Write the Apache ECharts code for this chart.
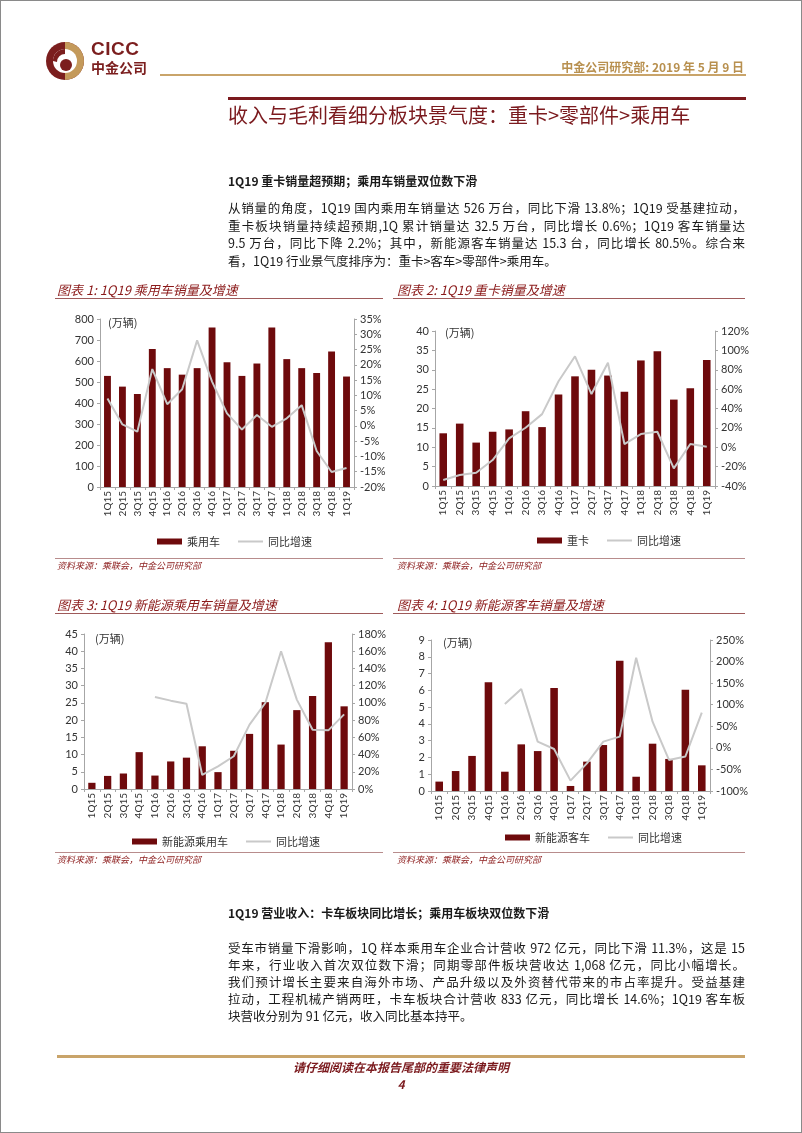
<!DOCTYPE html>
<html><head><meta charset="utf-8">
<script src="https://cdn.jsdelivr.net/npm/echarts@6/dist/echarts.min.js"></script>
<style>
html,body{margin:0;padding:0;background:#fff;}
#page{position:relative;width:802px;height:1133px;overflow:hidden;font-family:"Noto Sans CJK SC",sans-serif;color:#1a1a1a;}
#chart{position:absolute;left:0;top:0;width:802px;height:1133px;}
.frame{position:absolute;left:0;top:0;width:802px;height:1133px;box-sizing:border-box;border:1px solid #8a8a8a;pointer-events:none;}
.t{position:absolute;white-space:nowrap;}
.hl{position:absolute;height:0;}
.para{font-size:12.5px;line-height:17px;width:517px;left:228px;text-align:justify;text-align-last:justify;}
.last{text-align-last:left;}
.cap{font-style:italic;color:#8B1A1A;font-size:13px;line-height:16px;}
.src{font-style:italic;color:#8B1A1A;font-size:9px;line-height:12px;}
.sub{font-weight:bold;font-size:12px;line-height:16px;left:228px;}
</style></head>
<body>
<div id="page">
<div id="chart"></div>

<!-- header -->
<svg class="t" style="left:44px;top:40px" width="42" height="42" viewBox="0 0 42 42">
  <circle cx="21" cy="21" r="19" fill="#7B1E1E"/>
  <path d="M21 2 A19 19 0 0 1 21 40 Z" fill="#C49A5B"/>
  <circle cx="21" cy="21" r="12" fill="#fff"/>
  <circle cx="22" cy="25" r="6" fill="#7B1E1E"/>
  <path d="M9 21 A12 12 0 0 1 21 9 L21 14 A8 8 0 0 0 13 22 Z" fill="#7B1E1E"/>
</svg>
<div class="t" style="left:91px;top:39px;font-family:'Liberation Sans',sans-serif;font-weight:bold;font-size:19px;line-height:20px;color:#7B1E1E;letter-spacing:0.5px">CICC</div>
<div class="t" style="left:91px;top:59px;font-weight:bold;font-size:14px;line-height:16px;color:#7B1E1E">中金公司</div>
<div class="t" style="right:58px;top:59px;font-weight:bold;font-size:12px;line-height:16px;color:#B8904F">中金公司研究部: 2019 年 5 月 9 日</div>
<div class="hl" style="left:160px;top:74px;width:586px;border-top:2px solid #C9A46A"></div>
<div class="hl" style="left:228px;top:97px;width:518px;border-top:3px solid #7B1A1E"></div>
<div class="t" style="left:228px;top:102px;font-size:20px;line-height:26px;color:#7B1A1E">收入与毛利看细分板块景气度：重卡&gt;零部件&gt;乘用车</div>

<div class="t sub" style="top:173px">1Q19 重卡销量超预期；乘用车销量双位数下滑</div>
<div class="t para" style="top:199px">从销量的角度，1Q19 国内乘用车销量达 526 万台，同比下滑 13.8%；1Q19 受基建拉动，</div>
<div class="t para" style="top:216.5px">重卡板块销量持续超预期,1Q 累计销量达 32.5 万台，同比增长 0.6%；1Q19 客车销量达</div>
<div class="t para" style="top:234px">9.5 万台，同比下降 2.2%；其中，新能源客车销量达 15.3 台，同比增长 80.5%。综合来</div>
<div class="t para last" style="top:251.5px">看，1Q19 行业景气度排序为：重卡&gt;客车&gt;零部件&gt;乘用车。</div>

<div class="t cap" style="left:57px;top:282px">图表 1: 1Q19 乘用车销量及增速</div>
<div class="hl" style="left:55px;top:298px;width:328px;border-top:1px solid #9E5A5A"></div>
<div class="t cap" style="left:397px;top:282px">图表 2: 1Q19 重卡销量及增速</div>
<div class="hl" style="left:393px;top:298px;width:352px;border-top:1px solid #9E5A5A"></div>
<div class="hl" style="left:55px;top:558px;width:328px;border-top:1px solid #B88C8C"></div>
<div class="hl" style="left:393px;top:558px;width:352px;border-top:1px solid #B88C8C"></div>
<div class="t src" style="left:57px;top:560px">资料来源：乘联会，中金公司研究部</div>
<div class="t src" style="left:397px;top:560px">资料来源：乘联会，中金公司研究部</div>

<div class="t cap" style="left:57px;top:597px">图表 3: 1Q19 新能源乘用车销量及增速</div>
<div class="hl" style="left:55px;top:613px;width:328px;border-top:1px solid #9E5A5A"></div>
<div class="t cap" style="left:397px;top:597px">图表 4: 1Q19 新能源客车销量及增速</div>
<div class="hl" style="left:393px;top:613px;width:352px;border-top:1px solid #9E5A5A"></div>
<div class="hl" style="left:55px;top:852px;width:328px;border-top:1px solid #B88C8C"></div>
<div class="hl" style="left:393px;top:852px;width:352px;border-top:1px solid #B88C8C"></div>
<div class="t src" style="left:57px;top:854px">资料来源：乘联会，中金公司研究部</div>
<div class="t src" style="left:397px;top:854px">资料来源：乘联会，中金公司研究部</div>

<div class="t sub" style="top:905px">1Q19 营业收入：卡车板块同比增长；乘用车板块双位数下滑</div>
<div class="t para" style="top:938.5px">受车市销量下滑影响，1Q 样本乘用车企业合计营收 972 亿元，同比下滑 11.3%，这是 15</div>
<div class="t para" style="top:955.5px">年来，行业收入首次双位数下滑；同期零部件板块营收达 1,068 亿元，同比小幅增长。</div>
<div class="t para" style="top:972.5px">我们预计增长主要来自海外市场、产品升级以及外资替代带来的市占率提升。受益基建</div>
<div class="t para" style="top:989.5px">拉动，工程机械产销两旺，卡车板块合计营收 833 亿元，同比增长 14.6%；1Q19 客车板</div>
<div class="t para last" style="top:1006.5px">块营收分别为 91 亿元，收入同比基本持平。</div>

<div class="hl" style="left:57px;top:1055px;width:688px;border-top:3px solid #C9A46A"></div>
<div class="t" style="left:0;width:802px;text-align:center;top:1059px;font-style:italic;font-weight:bold;font-size:12px;line-height:15px;color:#7B1A1E">请仔细阅读在本报告尾部的重要法律声明</div>
<div class="t" style="left:0;width:802px;text-align:center;top:1076px;font-style:italic;font-weight:bold;font-size:12px;line-height:15px;color:#7B1A1E">4</div>
<div class="frame"></div>
</div>
<script>
const quarters = ['1Q15','2Q15','3Q15','4Q15','1Q16','2Q16','3Q16','4Q16','1Q17','2Q17','3Q17','4Q17','1Q18','2Q18','3Q18','4Q18','1Q19'];
const pvSales = [529,478,443,657,566,535,566,759,594,529,588,759,609,566,543,645,526];
const pvYoY = [9.0,0.5,-1.9,18.6,7.1,12.0,28.0,14.5,4.1,-1.2,3.6,-0.3,2.5,6.8,-8.2,-15.1,-13.8];
const hdtSales = [13.6,16.1,11.2,14.0,14.6,19.3,15.2,23.6,28.3,30.0,28.5,24.3,32.4,34.8,22.3,25.2,32.5];
const hdtYoY = [-33.8,-28.7,-26.3,-13.2,9.1,20.1,34.2,68.2,93.9,54.9,87.2,3.3,13.6,16.0,-21.8,3.3,0.6];
const nevPvSales = [1.8,3.8,4.5,10.7,3.9,8.0,9.1,12.4,4.9,11.1,16.0,25.2,12.9,22.9,27.0,42.6,24.0];
const nevPvYoY = [null,null,null,null,106.8,102.6,99.1,16.3,26.3,38.0,74.7,99.9,160.0,103.8,68.9,68.1,86.7];
const nevBusSales = [0.56,1.19,2.09,6.48,1.15,2.78,2.38,6.14,0.30,1.75,2.74,7.77,0.85,2.82,1.91,6.04,1.53];
const nevBusYoY = [null,null,null,null,101.5,136.3,14.4,-2.6,-76.0,-36.0,14.4,26.0,209.0,60.7,-28.0,-20.0,81.6];

const barNames = ['乘用车','重卡','新能源乘用车','新能源客车'];
const lineName = '同比增速';
const unitLabel = '(万辆)';

const BAR = '#6E0A0C', LINE = '#C9C9C9', AX = '#A6A6A6', TXT = '#333';
const numFont = 'Lato, "Noto Sans CJK SC", sans-serif';
const cjkFont = '"Noto Sans CJK SC", sans-serif';

const panels = [
  {grid:{left:100,top:319,width:254,height:168}, l:[0,800,100], r:[-20,35,5], bars:pvSales, yoy:pvYoY, leg:[152,531], unit:[108,317]},
  {grid:{left:435,top:331,width:280,height:155}, l:[0,40,5], r:[-40,120,20], bars:hdtSales, yoy:hdtYoY, leg:[532,530], unit:[445,327]},
  {grid:{left:84,top:634,width:268,height:155}, l:[0,45,5], r:[0,180,20], bars:nevPvSales, yoy:nevPvYoY, leg:[127,831], unit:[95,633]},
  {grid:{left:431,top:640,width:279,height:151}, l:[0,9,1], r:[-100,250,50], bars:nevBusSales, yoy:nevBusYoY, leg:[500,827], unit:[443,637]}
];

const option = {animation:false, grid:[], xAxis:[], yAxis:[], series:[], legend:[], graphic:[]};
panels.forEach((p,i)=>{
  const ln = lineName + '\u200b'.repeat(i);
  option.grid.push(p.grid);
  option.xAxis.push({type:'category', gridIndex:i, data:quarters,
    axisLine:{lineStyle:{color:AX}}, axisTick:{show:true,length:3,lineStyle:{color:AX}},
    axisLabel:{rotate:90, fontSize:10, color:TXT, fontFamily:numFont, margin:4, interval:0}});
  option.yAxis.push({type:'value', gridIndex:i, min:p.l[0], max:p.l[1], interval:p.l[2],
    axisLine:{show:true,lineStyle:{color:AX}}, axisTick:{show:true,length:3,lineStyle:{color:AX}},
    splitLine:{show:false}, axisLabel:{fontSize:11,color:TXT,fontFamily:numFont,margin:6}});
  option.yAxis.push({type:'value', gridIndex:i, position:'right', min:p.r[0], max:p.r[1], interval:p.r[2],
    axisLine:{show:true,lineStyle:{color:AX}}, axisTick:{show:true,length:3,lineStyle:{color:AX}},
    splitLine:{show:false}, axisLabel:{fontSize:11,color:TXT,fontFamily:numFont,margin:6,formatter:'{value}%'}});
  option.series.push({type:'bar', name:barNames[i], xAxisIndex:i, yAxisIndex:2*i, data:p.bars,
    barWidth:'46%', itemStyle:{color:BAR}});
  option.series.push({type:'line', name:ln, xAxisIndex:i, yAxisIndex:2*i+1, data:p.yoy,
    symbol:'none', connectNulls:false, lineStyle:{color:LINE,width:2}, itemStyle:{color:LINE}});
  option.legend.push({left:p.leg[0], top:p.leg[1], itemWidth:25, itemHeight:6, itemGap:18,
    data:[{name:barNames[i], icon:'rect'}, {name:ln, icon:'path://M0 0H100V8H0Z', itemStyle:{color:LINE}}],
    textStyle:{fontSize:11,color:TXT,fontFamily:cjkFont}});
  option.graphic.push({type:'text', left:p.unit[0], top:p.unit[1],
    style:{text:unitLabel, fontSize:11, fill:TXT, fontFamily:cjkFont}});
});

const chart = echarts.init(document.getElementById('chart'), null, {renderer:'canvas'});
chart.setOption(option);
</script>
</body></html>
